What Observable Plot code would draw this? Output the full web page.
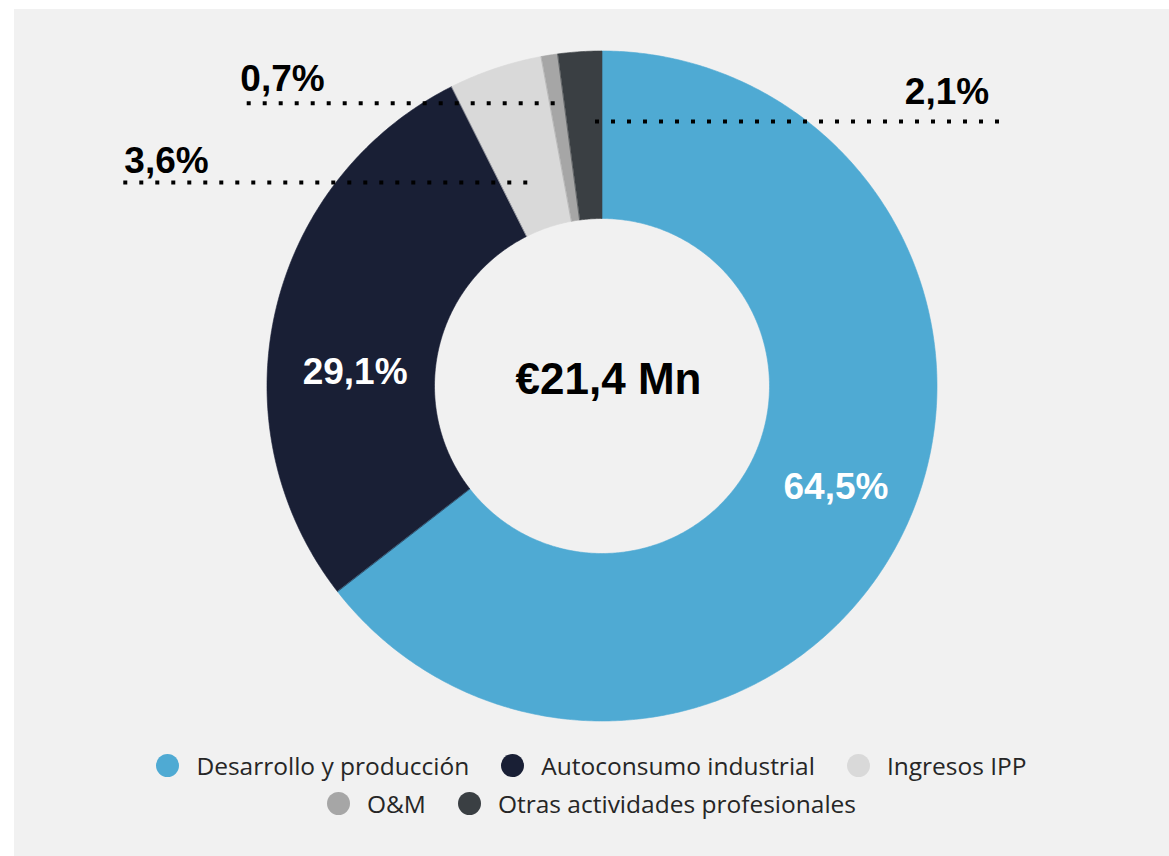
<!DOCTYPE html>
<html>
<head>
<meta charset="utf-8">
<script src="https://cdn.jsdelivr.net/npm/d3@7"></script>
<script src="https://cdn.jsdelivr.net/npm/@observablehq/plot@0.6"></script>
<style>
  html, body { margin: 0; padding: 0; background: #ffffff; }
  #panel { position: absolute; left: 14px; top: 9px; width: 1155px; height: 847px; background: #f1f1f1; }
  #chart svg { display: block; background: transparent; }
  #legend { font-family: "Open Sans", sans-serif; font-size: 24.5px; color: #262626; }
  .row { display: flex; justify-content: center; align-items: center; height: 38px; }
  .item { display: flex; align-items: center; margin: 0 16px; white-space: nowrap; }
  .sw { width: 23px; height: 23px; border-radius: 50%; margin-right: 17px; flex: none; }
</style>
</head>
<body>
<div id="panel">
  <div id="chart"></div>
  <div id="legend"></div>
</div>
<script>
// ---- data ----
const categories = ["Desarrollo y producción", "Autoconsumo industrial", "Ingresos IPP", "O&M", "Otras actividades profesionales"];
const shares = [64.5, 28.1, 4.5, 0.8, 2.1];          // slice sizes as drawn
const shareLabels = ["64,5%", "29,1%", "3,6%", "0,7%", "2,1%"];
const colors = ["#4FAAD3", "#191F35", "#D9D9D9", "#A6A6A6", "#3A3F43"];
const totalLabel = "€21,4 Mn";
const legendRows = [[0, 1, 2], [3, 4]];

// ---- layout (unit coords: outer radius = 1) ----
const R_OUT = 1, R_IN = 0.5;
const labelLayout = [
  {i: 0, x: 0.6985, y: -0.3015, fill: "#ffffff"},
  {i: 1, x: -0.737, y: 0.0418, fill: "#ffffff"},
  {i: 2, x: -1.300, y: 0.6716, fill: "#000000"},
  {i: 3, x: -0.9537, y: 0.9164, fill: "#000000"},
  {i: 4, x: 1.0299, y: 0.8761, fill: "#000000"}
];
const leaders = [
  {x1: -1.4275, x2: -0.2209, y: 0.6077},
  {x1: -1.0591, x2: -0.1397, y: 0.8442},
  {x1: -0.0194, x2: 1.1896, y: 0.7896}
];

// ---- ring geometry from shares ----
const total = d3.sum(shares);
const ring = [];
let acc = 0;
categories.forEach((c, i) => {
  const a0 = acc / total * 2 * Math.PI;
  acc += shares[i];
  const a1 = acc / total * 2 * Math.PI;
  const n = Math.max(2, Math.ceil((a1 - a0) / (Math.PI / 360)));
  for (let k = 0; k <= n; k++) {
    const a = a0 + (a1 - a0) * k / n;
    ring.push({cat: c, x: R_OUT * Math.sin(a), y: R_OUT * Math.cos(a)});
  }
  for (let k = n; k >= 0; k--) {
    const a = a0 + (a1 - a0) * k / n;
    ring.push({cat: c, x: R_IN * Math.sin(a), y: R_IN * Math.cos(a)});
  }
});

const W = 1155, H = 735;
const cx = 587.5, cy = 376.5, R = 335;

const chart = Plot.plot({
  width: W,
  height: H,
  margin: 0,
  style: {background: "transparent", overflow: "visible"},
  x: {domain: [-1, 1], range: [cx - R, cx + R], axis: null},
  y: {domain: [-1, 1], range: [cy + R, cy - R], axis: null},
  color: {domain: categories, range: colors},
  marks: [
    Plot.line(ring, {x: "x", y: "y", z: "cat", fill: "cat", stroke: "cat", strokeWidth: 0.6, curve: "linear-closed"}),
    Plot.ruleY(leaders, {y: "y", x1: "x1", x2: "x2", stroke: "#000000", strokeWidth: 4, strokeDasharray: "4,12"}),
    Plot.text(labelLayout, {
      x: "x", y: "y", text: d => shareLabels[d.i], fill: d => d.fill,
      fontSize: 37, fontWeight: "bold", fontFamily: "Liberation Sans, Arial, sans-serif",
      textAnchor: "middle", lineAnchor: "middle"
    }),
    Plot.text([totalLabel], {
      x: [0.0194], y: [0.0179], text: d => d, fill: "#000000",
      fontSize: 44, fontWeight: "bold", fontFamily: "Liberation Sans, Arial, sans-serif",
      textAnchor: "middle", lineAnchor: "middle"
    })
  ]
});
document.getElementById("chart").appendChild(chart);

// ---- legend ----
const leg = document.getElementById("legend");
leg.style.paddingTop = "2px";
legendRows.forEach(row => {
  const r = document.createElement("div");
  r.className = "row";
  row.forEach(i => {
    const it = document.createElement("div");
    it.className = "item";
    const sw = document.createElement("span");
    sw.className = "sw";
    sw.style.background = colors[i];
    const t = document.createElement("span");
    t.textContent = categories[i];
    it.appendChild(sw);
    it.appendChild(t);
    r.appendChild(it);
  });
  leg.appendChild(r);
});
</script>
</body>
</html>
